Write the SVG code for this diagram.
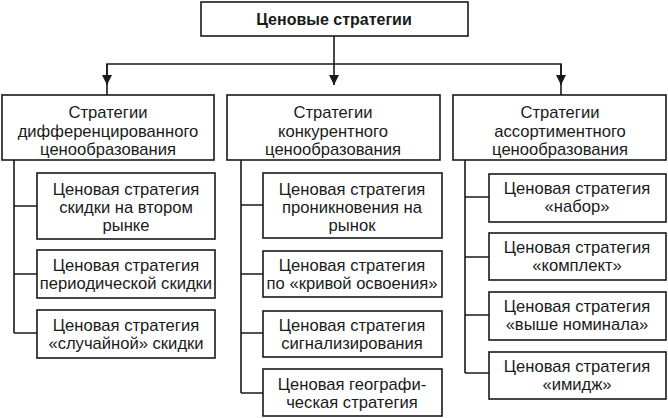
<svg xmlns="http://www.w3.org/2000/svg" width="668" height="418" viewBox="0 0 668 418">
<defs>
<marker id="ah" viewBox="0 0 10 12" refX="10" refY="6" markerWidth="10" markerHeight="12" markerUnits="userSpaceOnUse" orient="auto">
<path d="M0,1 L10,6 L0,11 Z" fill="#1a1a1a"/>
</marker>
<style>
rect{fill:#fff;stroke:#1a1a1a;stroke-width:1.6}
text{font-family:"Liberation Sans",Arial,sans-serif;font-size:16.6px;fill:#1a1a1a;text-anchor:middle}
.t{font-weight:bold;font-size:16px}
#connectors path{fill:none;stroke:#1a1a1a;stroke-width:1.6}
</style>
</defs>
<rect x="0" y="0" width="668" height="418" style="fill:#fff;stroke:none"/>
<g id="connectors">
<path d="M334,36 V85" marker-end="url(#ah)"/>
<path d="M107,95 V64 H561 V95" />
<path d="M107,64 V85" marker-end="url(#ah)"/>
<path d="M561,64 V85" marker-end="url(#ah)"/>
<path d="M14,160 V333 M14,206 H37 M14,274 H37 M14,333 H37"/>
<path d="M241,160 V393 M241,205 H263 M241,274 H263 M241,333 H263 M241,393 H263"/>
<path d="M465,160 V373 M465,197 H489 M465,257 H489 M465,315 H489 M465,373 H489"/>
</g>
<g id="root"><rect x="201" y="2" width="267" height="34"/><text class="t" x="334" y="25">Ценовые стратегии</text></g>
<g id="diff"><rect x="2" y="95" width="212" height="65"/><text x="108" y="118">Стратегии</text><text x="108" y="137">дифференцированного</text><text x="108" y="155">ценообразования</text></g>
<g id="konk"><rect x="227" y="95" width="213" height="65"/><text x="333" y="118">Стратегии</text><text x="333" y="137">конкурентного</text><text x="333" y="155">ценообразования</text></g>
<g id="assort"><rect x="453" y="95" width="213" height="65"/><text x="560" y="118">Стратегии</text><text x="560" y="137">ассортиментного</text><text x="560" y="155">ценообразования</text></g>
<g id="d1"><rect x="37" y="173" width="178" height="66"/><text x="126" y="195">Ценовая стратегия</text><text x="126" y="213">скидки на втором</text><text x="126" y="231">рынке</text></g>
<g id="d2"><rect x="37" y="250" width="178" height="48"/><text x="126" y="271">Ценовая стратегия</text><text x="126" y="289">периодической скидки</text></g>
<g id="d3"><rect x="37" y="310" width="178" height="48"/><text x="126" y="331">Ценовая стратегия</text><text x="126" y="349">«случайной» скидки</text></g>
<g id="k1"><rect x="263" y="173" width="179" height="65"/><text x="352" y="195">Ценовая стратегия</text><text x="352" y="213">проникновения на</text><text x="352" y="231">рынок</text></g>
<g id="k2"><rect x="263" y="251" width="179" height="46"/><text x="352" y="271">Ценовая стратегия</text><text x="352" y="289">по «кривой освоения»</text></g>
<g id="k3"><rect x="263" y="311" width="179" height="46"/><text x="352" y="331">Ценовая стратегия</text><text x="352" y="349">сигнализирования</text></g>
<g id="k4"><rect x="263" y="369" width="179" height="47"/><text x="352" y="390">Ценовая географи-</text><text x="352" y="408">ческая стратегия</text></g>
<g id="a1"><rect x="489" y="174" width="177" height="48"/><text x="577" y="194">Ценовая стратегия</text><text x="577" y="212">«набор»</text></g>
<g id="a2"><rect x="489" y="233" width="177" height="47"/><text x="577" y="253">Ценовая стратегия</text><text x="577" y="271">«комплект»</text></g>
<g id="a3"><rect x="489" y="292" width="177" height="48"/><text x="577" y="312">Ценовая стратегия</text><text x="577" y="330">«выше номинала»</text></g>
<g id="a4"><rect x="489" y="352" width="177" height="47"/><text x="577" y="372">Ценовая стратегия</text><text x="577" y="390">«имидж»</text></g>
</svg>
